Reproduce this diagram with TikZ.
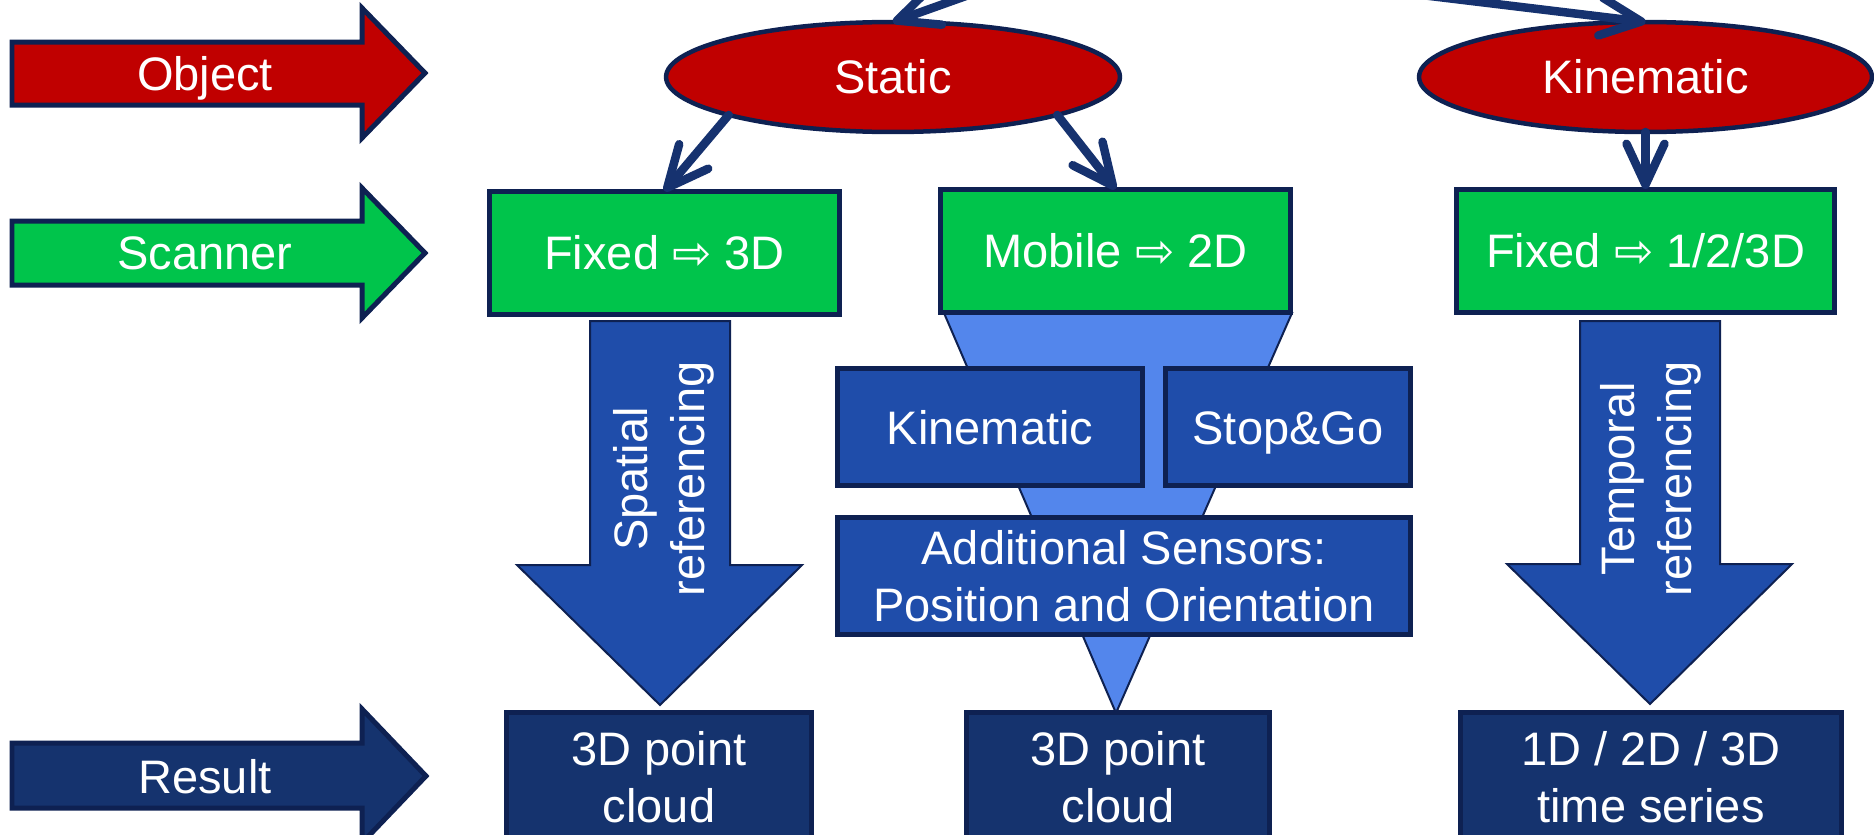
\documentclass[tikz,border=0pt]{standalone}
\usepackage{fontspec}
\setmainfont{Liberation Sans}
\newfontfamily\symfont{DejaVu Sans}
\usetikzlibrary{arrows.meta,shapes.geometric}
\definecolor{cRed}{HTML}{C00000}
\definecolor{cGreen}{HTML}{00C44B}
\definecolor{cNavy}{HTML}{0E2152}
\definecolor{cConn}{HTML}{16326F}
\definecolor{cBlue}{HTML}{1F4DAA}
\definecolor{cLight}{HTML}{5386EC}
\definecolor{cDark}{HTML}{15336E}
\newcommand{\rarr}{{\symfont ⇨}}
\begin{document}
\begin{tikzpicture}[x=0.02cm,y=-0.02cm,
  every node/.style={text=white, font=\fontsize{26.75pt}{32.5pt}\selectfont, inner sep=0pt, outer sep=0pt, align=center},
  oneline/.style={text height=0.68cm, text depth=0pt},
  oval/.style={ellipse, oneline, draw=cNavy, fill=cRed, line width=0.09cm, minimum width=9.08cm, minimum height=2.2cm},
  gbox/.style={rectangle, oneline, draw=cNavy, fill=cGreen, line width=0.1cm, minimum height=2.48cm},
  bbox/.style={rectangle, draw=cNavy, fill=cBlue, line width=0.1cm, minimum height=2.36cm},
  rbox/.style={rectangle, draw=cNavy, fill=cDark, line width=0.1cm, minimum height=2.58cm},
  sidearrow/.style={draw=cNavy, line width=0.1cm, line join=miter},
  bigdown/.style={draw=cNavy, fill=cBlue, line width=0.04cm},
  funnel/.style={draw=cNavy, fill=cLight, line width=0.04cm},
  conn/.style={draw=cConn, line width=0.17cm, line cap=round, -{Straight Barb[length=0.82cm,width=0.76cm,round]}},
]
\useasboundingbox (0,0) rectangle (1874,835);
\fill[white] (0,0) rectangle (1874,835);
\clip (0,0) rectangle (1874,835);

% side arrows
\draw[sidearrow, fill=cRed] (12,42) -- (362,42) -- (362,8) -- (425,73) -- (362,138) -- (362,105) -- (12,105) -- cycle;
\node[oneline] (objlbl) at (205,73.5) {Object};
\draw[sidearrow, fill=cGreen] (12,221) -- (362,221) -- (362,188) -- (425,253) -- (362,318) -- (362,285) -- (12,285) -- cycle;
\node[oneline] (scanlbl) at (205,253) {Scanner};
\draw[sidearrow, fill=cDark] (12,743) -- (362,743) -- (362,709) -- (426,776) -- (362,843) -- (362,808) -- (12,808) -- cycle;
\node[oneline] (reslbl) at (205,776) {Result};

% ellipses
\node[oval] (static) at (893,77) {Static};
\node[oval, minimum width=9.06cm] (kin) at (1645.5,77) {Kinematic};

% big down arrows
\draw[bigdown] (590,321) -- (730,321) -- (730,565) -- (802,565) -- (660,705) -- (517,565) -- (590,565) -- cycle;
\node[rotate=90] (sptxt) at (664,479) {Spatial\\referencing};
\draw[bigdown] (1580,321) -- (1720,321) -- (1720,564) -- (1792,564) -- (1650,704) -- (1507,564) -- (1580,564) -- cycle;
\node[rotate=90] (tptxt) at (1651,479) {Temporal\\referencing};

% funnel
\draw[funnel] (944,313) -- (1292,313) -- (1116,713) -- cycle;

% scanner boxes
\node[gbox, minimum width=7.02cm] (fix) at (664.5,253) {Fixed \rarr{} 3D};
\node[gbox, minimum width=7.02cm] (mob) at (1115.5,251) {Mobile \rarr{} 2D};
\node[gbox, minimum width=7.58cm] (fixk) at (1645.5,251) {Fixed \rarr{} 1/2/3D};

% mobile sub-boxes
\node[bbox, oneline, minimum width=6.12cm] (kinbox) at (990,427) {Kinematic};
\node[bbox, oneline, minimum width=4.92cm] (stopgo) at (1288,427) {Stop\&Go};
\node[bbox, minimum width=11.48cm] (addsens) at (1124,576) {Additional Sensors:\\Position and Orientation};

% result boxes
\node[rbox, minimum width=6.12cm] (res1) at (659,777) {3D point\\cloud};
\node[rbox, minimum width=6.08cm] (res2) at (1118,777) {3D point\\cloud};
\node[rbox, minimum width=7.64cm] (res3) at (1651,777) {1D / 2D / 3D\\time series};

% connectors
\coordinate (srcA) at (1037.5,-29.5);
\coordinate (srcB) at (1347,-14);
\draw[conn] (srcA) -- (static.north);
\draw[conn] (srcB) -- (kin.north);
\draw[conn] (static.193) -- (fix.north);
\draw[conn] (static.-13) -- (mob.north);
\draw[conn] (kin.south) -- (fixk.north);
\end{tikzpicture}
\end{document}
